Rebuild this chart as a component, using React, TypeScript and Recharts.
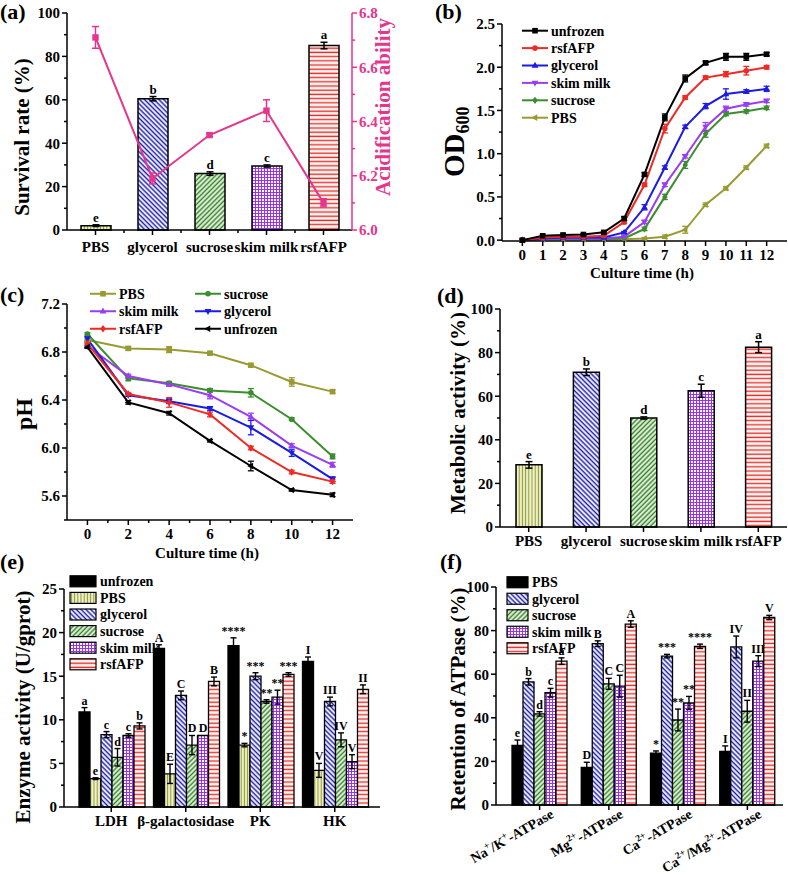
import React from "react";
import {
  Bar,
  BarChart,
  Cell,
  ComposedChart,
  ErrorBar,
  LabelList,
  Legend,
  Line,
  LineChart,
  XAxis,
  YAxis,
} from "recharts";

const FONT = "'Liberation Serif', 'Times New Roman', serif";
const PINK = "#e5358c";

// (a) survival rate + acidification ability
const treatments = ["PBS", "glycerol", "sucrose", "skim milk", "rsfAFP"];
const survival = [2, 60.5, 26, 29.5, 85];
const survivalErr = [0.4, 1.0, 0.8, 0.5, 1.5];
const survivalSig = ["e", "b", "d", "c", "a"];
const acidification = [6.71, 6.19, 6.35, 6.44, 6.1];
const acidificationErr = [0.04, 0.02, 0.006, 0.04, 0.015];

// (b) growth curves
const odHours = [0, 1, 2, 3, 4, 5, 6, 7, 8, 9, 10, 11, 12];
const odUnfrozen = [0, 0.05, 0.06, 0.065, 0.09, 0.25, 0.76, 1.42, 1.87, 2.05, 2.12, 2.12, 2.15];
const odUnfrozenErr = [0.01, 0.01, 0.01, 0.01, 0.01, 0.02, 0.02, 0.04, 0.04, 0.02, 0.04, 0.04, 0.02];
const odRsf = [0, 0.03, 0.04, 0.04, 0.05, 0.21, 0.64, 1.29, 1.65, 1.88, 1.92, 1.96, 2.0];
const odRsfErr = [0.01, 0.01, 0.01, 0.01, 0.01, 0.02, 0.02, 0.05, 0.02, 0.02, 0.03, 0.05, 0.02];
const odGly = [0, 0.02, 0.03, 0.03, 0.03, 0.09, 0.38, 0.84, 1.31, 1.55, 1.69, 1.72, 1.75];
const odGlyErr = [0.01, 0.01, 0.01, 0.01, 0.01, 0.01, 0.03, 0.02, 0.02, 0.03, 0.06, 0.02, 0.03];
const odSkim = [0, 0.02, 0.02, 0.02, 0.02, 0.04, 0.21, 0.64, 0.97, 1.31, 1.52, 1.57, 1.61];
const odSkimErr = [0.01, 0.01, 0.01, 0.01, 0.01, 0.01, 0.02, 0.02, 0.02, 0.05, 0.03, 0.02, 0.02];
const odSuc = [0, 0.01, 0.01, 0.01, 0.01, 0.02, 0.13, 0.5, 0.87, 1.23, 1.46, 1.49, 1.53];
const odSucErr = [0.01, 0.01, 0.01, 0.01, 0.01, 0.01, 0.02, 0.03, 0.04, 0.04, 0.02, 0.02, 0.02];
const odPbs = [0, 0.01, 0.01, 0.01, 0.01, 0.01, 0.02, 0.04, 0.12, 0.41, 0.6, 0.84, 1.09];
const odPbsErr = [0.01, 0.01, 0.01, 0.01, 0.01, 0.01, 0.01, 0.02, 0.04, 0.02, 0.02, 0.02, 0.02];

// (c) pH during culture
const phHours = [0, 2, 4, 6, 8, 10, 12];
const phPbs = [6.9, 6.83, 6.82, 6.79, 6.69, 6.55, 6.47];
const phPbsErr = [0.01, 0.015, 0.025, 0.01, 0.01, 0.035, 0.015];
const phSuc = [6.95, 6.58, 6.54, 6.48, 6.46, 6.24, 5.93];
const phSucErr = [0.01, 0.02, 0.015, 0.015, 0.035, 0.01, 0.02];
const phSkim = [6.85, 6.6, 6.53, 6.44, 6.26, 6.02, 5.86];
const phSkimErr = [0.02, 0.015, 0.015, 0.03, 0.03, 0.015, 0.02];
const phGly = [6.91, 6.44, 6.39, 6.33, 6.17, 5.96, 5.74];
const phGlyErr = [0.02, 0.01, 0.02, 0.015, 0.06, 0.03, 0.02];
const phRsf = [6.87, 6.45, 6.38, 6.28, 6.0, 5.8, 5.72];
const phRsfErr = [0.01, 0.01, 0.04, 0.02, 0.015, 0.015, 0.015];
const phUnf = [6.84, 6.38, 6.29, 6.06, 5.85, 5.65, 5.61];
const phUnfErr = [0.01, 0.015, 0.015, 0.01, 0.04, 0.01, 0.015];

// (d) metabolic activity
const metabolic = [28.5, 71, 50, 62.5, 82.5];
const metabolicErr = [1.5, 1.5, 0.5, 3, 2.5];
const metabolicSig = ["e", "b", "d", "c", "a"];

// (e) enzyme activity
const enzymes = ["LDH", "β-galactosidase", "PK", "HK"];
const eUnfrozen = [10.9, 18.2, 18.5, 16.7];
const eUnfrozenErr = [0.5, 0.4, 0.9, 0.5];
const eUnfrozenSig = ["a", "A", "****", "I"];
const ePbs = [3.25, 3.8, 7.1, 4.2];
const ePbsErr = [0.1, 1.1, 0.2, 0.8];
const ePbsSig = ["e", "E", "*", "V"];
const eGly = [8.3, 12.8, 15.0, 12.1];
const eGlyErr = [0.35, 0.5, 0.4, 0.5];
const eGlySig = ["c", "C", "***", "III"];
const eSuc = [5.7, 7.1, 12.1, 7.7];
const eSucErr = [1.0, 1.1, 0.2, 0.8];
const eSucSig = ["d", "D", "**", "IV"];
const eSkim = [8.2, 8.2, 12.6, 5.2];
const eSkimErr = [0.2, 0, 0.8, 0.8];
const eSkimSig = ["c", "D", "**", "V"];
const eRsf = [9.3, 14.4, 15.2, 13.5];
const eRsfErr = [0.35, 0.5, 0.2, 0.5];
const eRsfSig = ["b", "B", "***", "II"];

// (f) ATPase retention
const atpases = ["Na⁺/K⁺-ATPase", "Mg²⁺-ATPase", "Ca²⁺-ATPase", "Ca²⁺/Mg²⁺-ATPase"];
const fPbs = [27.3, 17.3, 23.8, 24.6];
const fPbsErr = [2.5, 2.3, 1.0, 2.5];
const fPbsSig = ["e", "D", "*", "I"];
const fGly = [56.5, 74, 68.3, 72.5];
const fGlyErr = [1.5, 1.3, 0.8, 5];
const fGlySig = ["b", "B", "***", "IV"];
const fSuc = [41.8, 55.6, 39, 43];
const fSucErr = [1, 2.5, 5, 5];
const fSucSig = ["d", "C", "**", "II"];
const fSkim = [51.5, 54.5, 46.8, 66];
const fSkimErr = [2, 5, 3, 2.5];
const fSkimSig = ["c", "C", "**", "III"];
const fRsf = [66, 83, 72.8, 86];
const fRsfErr = [1.5, 1.5, 1, 1];
const fRsfSig = ["a", "A", "****", "V"];

// styles
const COLOR: Record<string, string> = {
  unfrozen: "#000000",
  rsf: "#ee2a24",
  gly: "#1b1be3",
  skim: "#9c3cf2",
  suc: "#3b8d2f",
  pbs: "#9a9a33",
};
const FILL: Record<string, string> = {
  unfrozen: "#000000",
  pbs: "url(#pat-pbs)",
  gly: "url(#pat-gly)",
  suc: "url(#pat-suc)",
  skim: "url(#pat-skim)",
  rsf: "url(#pat-rsf)",
};
const NAME: Record<string, string> = {
  unfrozen: "unfrozen",
  pbs: "PBS",
  gly: "glycerol",
  suc: "sucrose",
  skim: "skim milk",
  rsf: "rsfAFP",
};
const TREAT_IDS = ["pbs", "gly", "suc", "skim", "rsf"];

const TICK_FONT = { fontFamily: FONT, fontWeight: 700, fontSize: 15 };
const KEY_FONT = { fontFamily: FONT, fontWeight: 700, fontSize: 14 };
const AXIS = { stroke: "#000", strokeWidth: 1.5 };

const steps = (a: number, b: number, s: number) =>
  Array.from({ length: Math.round((b - a) / s) + 1 }, (_, i) => +(a + i * s).toFixed(4));
const isMult = (v: number, s: number) => Math.abs(v / s - Math.round(v / s)) < 1e-6;

// tick renderers (tickSize/tickMargin 0, so x,y sit on the axis line)
const yTick = (major: number, digits: number, side: "left" | "right" = "left", color = "#000") =>
  (p: any) => {
    const v = Number(p.payload.value);
    const isMajor = isMult(v, major);
    const s = side === "left" ? -1 : 1;
    return (
      <g>
        <line x1={p.x} x2={p.x + s * (isMajor ? 5 : 3)} y1={p.y} y2={p.y} stroke={color} strokeWidth={1.5} />
        {isMajor && (
          <text x={p.x + s * 7} y={p.y} dy="0.36em" textAnchor={side === "left" ? "end" : "start"} fill={color} style={TICK_FONT}>
            {v.toFixed(digits)}
          </text>
        )}
      </g>
    );
  };

const xNumTick = (major: number) => (p: any) => {
  const v = Number(p.payload.value);
  const isMajor = isMult(v, major);
  return (
    <g>
      <line x1={p.x} x2={p.x} y1={p.y} y2={p.y + (isMajor ? 5 : 3)} stroke="#000" strokeWidth={1.5} />
      {isMajor && (
        <text x={p.x} y={p.y + 19} textAnchor="middle" fill="#000" style={TICK_FONT}>
          {v}
        </text>
      )}
    </g>
  );
};

const xCatTick = (dy: number, minorHalf = 0, count = 0) => (p: any) => (
  <g>
    <line x1={p.x} x2={p.x} y1={p.y} y2={p.y + 5} stroke="#000" strokeWidth={1.5} />
    {minorHalf > 0 && p.index < count - 1 && (
      <line x1={p.x + minorHalf} x2={p.x + minorHalf} y1={p.y} y2={p.y + 3} stroke="#000" strokeWidth={1.5} />
    )}
    <text x={p.x} y={p.y + dy} textAnchor="middle" fill="#000" style={TICK_FONT}>
      {p.payload.value}
    </text>
  </g>
);

const SUP: Record<string, string> = { "⁺": "+", "²": "2" };
const atpTick = (p: any) => {
  const label = String(p.payload.value);
  const segs: { t: string; sup: boolean }[] = [];
  for (const ch of label) {
    const sup = ch in SUP;
    const t = sup ? SUP[ch] : ch;
    const last = segs[segs.length - 1];
    if (last && last.sup === sup) last.t += t;
    else segs.push({ t, sup });
  }
  let raised = false;
  return (
    <g>
      <line x1={p.x} x2={p.x} y1={p.y} y2={p.y + 5} stroke="#000" strokeWidth={1.5} />
      <text transform={`translate(${p.x + 15},${p.y + 12}) rotate(-30)`} textAnchor="end" fill="#000" style={{ ...TICK_FONT, fontSize: 14 }}>
        {segs.map((s, i) => {
          const dy = s.sup ? (raised ? 0 : -6) : raised ? 6 : 0;
          raised = s.sup;
          return (
            <tspan key={i} dy={dy} fontSize={s.sup ? 9.5 : 14}>
              {s.t}
            </tspan>
          );
        })}
      </text>
    </g>
  );
};

// significance letters above the error bar
const sigLabel = (vals: number[], errs: number[], sigs: string[], size: number) => (p: any) => {
  const vb = p.viewBox || p;
  const x = vb.x ?? p.x;
  const y = vb.y ?? p.y;
  const w = vb.width ?? p.width;
  const h = vb.height ?? p.height;
  const i = p.index;
  if (i == null || x == null) return null;
  const perUnit = vals[i] ? h / vals[i] : 0;
  const top = y - errs[i] * perUnit;
  return (
    <text x={x + w / 2} y={top - 3} textAnchor="middle" fill="#000" stroke="none" style={{ fontFamily: FONT, fontWeight: 700, fontSize: size }}>
      {sigs[i]}
    </text>
  );
};

function Marker({ cx, cy, shape, color, r }: { cx: number; cy: number; shape: string; color: string; r: number }) {
  if (cx == null || cy == null) return null;
  switch (shape) {
    case "square":
      return <rect x={cx - r} y={cy - r} width={2 * r} height={2 * r} fill={color} />;
    case "circle":
      return <circle cx={cx} cy={cy} r={r} fill={color} />;
    case "up":
      return <polygon points={`${cx},${cy - r * 1.3} ${cx + r * 1.2},${cy + r * 0.8} ${cx - r * 1.2},${cy + r * 0.8}`} fill={color} />;
    case "down":
      return <polygon points={`${cx},${cy + r * 1.3} ${cx + r * 1.2},${cy - r * 0.8} ${cx - r * 1.2},${cy - r * 0.8}`} fill={color} />;
    case "diamond":
      return <polygon points={`${cx},${cy - r * 1.3} ${cx + r},${cy} ${cx},${cy + r * 1.3} ${cx - r},${cy}`} fill={color} />;
    default:
      return <polygon points={`${cx - r * 1.3},${cy} ${cx + r * 0.8},${cy - r * 1.2} ${cx + r * 0.8},${cy + r * 1.2}`} fill={color} />;
  }
}

const dotOf = (shape: string, color: string, r = 2.8) => (p: any) => (
  <Marker key={`m${p.index}`} cx={p.cx} cy={p.cy} shape={shape} color={color} r={r} />
);

function LineKey({ items, cols = 1, colW = 0, rowH }: { items: { id: string; shape: string }[]; cols?: number; colW?: number; rowH: number }) {
  const rows = Math.ceil(items.length / cols);
  return (
    <svg width={cols * 110 + 30} height={rows * rowH + 4} style={{ overflow: "visible" }}>
      {items.map((it, i) => {
        const x = (i % cols) * colW + 4;
        const y = Math.floor(i / cols) * rowH + rowH / 2 + 1;
        return (
          <g key={it.id}>
            <line x1={x} x2={x + 26} y1={y} y2={y} stroke={COLOR[it.id]} strokeWidth={2} />
            <Marker cx={x + 13} cy={y} shape={it.shape} color={COLOR[it.id]} r={2.8} />
            <text x={x + 29} y={y} dy="0.35em" fill="#000" style={KEY_FONT}>
              {NAME[it.id]}
            </text>
          </g>
        );
      })}
    </svg>
  );
}

function BoxKey({ ids, fills, boxW, boxH, rowH }: { ids: string[]; fills: Record<string, string>; boxW: number; boxH: number; rowH: number }) {
  return (
    <svg width={140} height={ids.length * rowH + 4} style={{ overflow: "visible" }}>
      {ids.map((id, i) => {
        const cy = i * rowH + rowH / 2;
        return (
          <g key={id}>
            <rect x={3} y={cy - boxH / 2} width={boxW} height={boxH} fill={fills[id]} stroke="#000" strokeWidth={1.2} />
            <text x={boxW + 7} y={cy} dy="0.35em" fill="#000" style={KEY_FONT}>
              {NAME[id]}
            </text>
          </g>
        );
      })}
    </svg>
  );
}

function Patterns() {
  return (
    <svg width={0} height={0} style={{ position: "absolute" }}>
      <defs>
        <pattern id="pat-pbs" width={3.2} height={4} patternUnits="userSpaceOnUse">
          <rect width={3.2} height={4} fill="#f3f3d0" />
          <line x1={1.2} y1={0} x2={1.2} y2={4} stroke="#8d9a2c" strokeWidth={1.1} />
        </pattern>
        <pattern id="pat-gly" width={3.4} height={4} patternUnits="userSpaceOnUse" patternTransform="rotate(-45)">
          <rect width={3.4} height={4} fill="#ffffff" />
          <line x1={1.2} y1={0} x2={1.2} y2={4} stroke="#1c1cae" strokeWidth={1.5} />
        </pattern>
        <pattern id="pat-suc" width={3.4} height={4} patternUnits="userSpaceOnUse" patternTransform="rotate(45)">
          <rect width={3.4} height={4} fill="#eef7e6" />
          <line x1={1.2} y1={0} x2={1.2} y2={4} stroke="#33822a" strokeWidth={1.5} />
        </pattern>
        <pattern id="pat-skim" width={3} height={3} patternUnits="userSpaceOnUse">
          <rect width={3} height={3} fill="#9b30f0" />
          <rect x={1} y={1} width={2} height={2} fill="#ffffff" />
        </pattern>
        <pattern id="pat-rsf" width={4} height={4.2} patternUnits="userSpaceOnUse">
          <rect width={4} height={4.2} fill="#fff6f4" />
          <line x1={0} y1={2} x2={4} y2={2} stroke="#e8332e" strokeWidth={1.4} />
        </pattern>
      </defs>
    </svg>
  );
}

// ---------- panels ----------
const aData = treatments.map((cat, i) => ({
  cat,
  survival: survival[i],
  survivalErr: survivalErr[i],
  acid: acidification[i],
  acidErr: acidificationErr[i],
}));

function PanelA() {
  return (
    <ComposedChart width={400} height={262} data={aData} margin={{ top: 13, right: 8, bottom: 5, left: 27 }}>
      <XAxis dataKey="cat" height={27} interval={0} tickSize={0} tickMargin={0} tickLine={false} axisLine={AXIS} tick={xCatTick(22, 28.5, treatments.length)} />
      <YAxis yAxisId="l" width={40} domain={[0, 100]} ticks={steps(0, 100, 10)} interval={0} tickSize={0} tickMargin={0} tickLine={false} axisLine={AXIS} tick={yTick(20, 0)} />
      <YAxis yAxisId="r" orientation="right" width={40} domain={[6, 6.8]} ticks={steps(6, 6.8, 0.1)} interval={0} tickSize={0} tickMargin={0} tickLine={false} axisLine={{ stroke: PINK, strokeWidth: 1.5 }} tick={yTick(0.2, 1, "right", PINK)} />
      <Bar yAxisId="l" dataKey="survival" barSize={30} stroke="#000" strokeWidth={1.5} isAnimationActive={false}>
        {aData.map((_, i) => (
          <Cell key={i} fill={FILL[TREAT_IDS[i]]} />
        ))}
        <ErrorBar dataKey="survivalErr" width={3.5} stroke="#000" strokeWidth={1.5} direction="y" />
        <LabelList dataKey="cat" content={sigLabel(survival, survivalErr, survivalSig, 13)} />
      </Bar>
      <Line yAxisId="r" dataKey="acid" stroke={PINK} strokeWidth={2} dot={dotOf("square", PINK, 3.2)} isAnimationActive={false}>
        <ErrorBar dataKey="acidErr" width={3.5} stroke={PINK} strokeWidth={1.5} direction="y" />
      </Line>
    </ComposedChart>
  );
}

const odSeries = [
  { id: "unfrozen", vals: odUnfrozen, errs: odUnfrozenErr, shape: "square" },
  { id: "rsf", vals: odRsf, errs: odRsfErr, shape: "circle" },
  { id: "gly", vals: odGly, errs: odGlyErr, shape: "up" },
  { id: "skim", vals: odSkim, errs: odSkimErr, shape: "down" },
  { id: "suc", vals: odSuc, errs: odSucErr, shape: "diamond" },
  { id: "pbs", vals: odPbs, errs: odPbsErr, shape: "left" },
];
const bData = odHours.map((t, i) => {
  const row: Record<string, number> = { t };
  odSeries.forEach((s) => {
    row[s.id] = s.vals[i];
    row[s.id + "Err"] = s.errs[i];
  });
  return row;
});

function PanelB() {
  return (
    <LineChart width={398} height={290} data={bData} margin={{ top: 24, right: 1, bottom: 19, left: 72 }}>
      <XAxis type="number" dataKey="t" domain={[-1, 13]} ticks={odHours} height={30} interval={0} tickSize={0} tickMargin={0} tickLine={false} axisLine={AXIS} tick={xNumTick(1)} />
      <YAxis width={40} domain={[0, 2.5]} ticks={steps(0, 2.5, 0.25)} interval={0} tickSize={0} tickMargin={0} tickLine={false} axisLine={AXIS} tick={yTick(0.5, 1)} />
      {[...odSeries].reverse().map((s) => (
        <Line key={s.id} dataKey={s.id} stroke={COLOR[s.id]} strokeWidth={2} dot={dotOf(s.shape, COLOR[s.id])} isAnimationActive={false}>
          <ErrorBar dataKey={s.id + "Err"} direction="y" width={3} stroke={COLOR[s.id]} strokeWidth={1.3} />
        </Line>
      ))}
      <Legend layout="vertical" align="center" verticalAlign="middle" wrapperStyle={{ left: 128, top: 21 }} content={() => <LineKey items={odSeries} rowH={17.4} />} />
    </LineChart>
  );
}

const phSeries = [
  { id: "pbs", vals: phPbs, errs: phPbsErr, shape: "square" },
  { id: "suc", vals: phSuc, errs: phSucErr, shape: "circle" },
  { id: "skim", vals: phSkim, errs: phSkimErr, shape: "up" },
  { id: "gly", vals: phGly, errs: phGlyErr, shape: "down" },
  { id: "rsf", vals: phRsf, errs: phRsfErr, shape: "diamond" },
  { id: "unfrozen", vals: phUnf, errs: phUnfErr, shape: "left" },
];
const cData = phHours.map((t, i) => {
  const row: Record<string, number> = { t };
  phSeries.forEach((s) => {
    row[s.id] = s.vals[i];
    row[s.id + "Err"] = s.errs[i];
  });
  return row;
});

function PanelC() {
  return (
    <LineChart width={400} height={290} data={cData} margin={{ top: 24, right: 47, bottom: 20, left: 27 }}>
      <XAxis type="number" dataKey="t" domain={[-1, 13]} ticks={steps(0, 12, 1)} height={30} interval={0} tickSize={0} tickMargin={0} tickLine={false} axisLine={AXIS} tick={xNumTick(2)} />
      <YAxis width={40} domain={[5.4, 7.2]} ticks={steps(5.4, 7.2, 0.2)} interval={0} tickSize={0} tickMargin={0} tickLine={false} axisLine={AXIS} tick={yTick(0.4, 1)} />
      {phSeries.map((s) => (
        <Line key={s.id} dataKey={s.id} stroke={COLOR[s.id]} strokeWidth={2} dot={dotOf(s.shape, COLOR[s.id])} isAnimationActive={false}>
          <ErrorBar dataKey={s.id + "Err"} direction="y" width={3} stroke={COLOR[s.id]} strokeWidth={1.3} />
        </Line>
      ))}
      <Legend layout="vertical" align="center" verticalAlign="middle" wrapperStyle={{ left: 86, top: 4 }} content={() => <LineKey items={phSeries} cols={2} colW={105} rowH={17.5} />} />
    </LineChart>
  );
}

const dData = treatments.map((cat, i) => ({ cat, metabolic: metabolic[i], metabolicErr: metabolicErr[i] }));

function PanelD() {
  return (
    <BarChart width={398} height={290} data={dData} margin={{ top: 29, right: 1, bottom: 13, left: 70 }}>
      <XAxis dataKey="cat" height={30} interval={0} tickSize={0} tickMargin={0} tickLine={false} axisLine={AXIS} tick={xCatTick(19)} />
      <YAxis width={40} domain={[0, 100]} ticks={steps(0, 100, 10)} interval={0} tickSize={0} tickMargin={0} tickLine={false} axisLine={AXIS} tick={yTick(20, 0)} />
      <Bar dataKey="metabolic" barSize={26} stroke="#000" strokeWidth={1.5} isAnimationActive={false}>
        {dData.map((_, i) => (
          <Cell key={i} fill={FILL[TREAT_IDS[i]]} />
        ))}
        <ErrorBar dataKey="metabolicErr" width={3.5} stroke="#000" strokeWidth={1.5} direction="y" />
        <LabelList dataKey="cat" content={sigLabel(metabolic, metabolicErr, metabolicSig, 13)} />
      </Bar>
    </BarChart>
  );
}

const eSeries = [
  { id: "unfrozen", vals: eUnfrozen, errs: eUnfrozenErr, sig: eUnfrozenSig },
  { id: "pbs", vals: ePbs, errs: ePbsErr, sig: ePbsSig },
  { id: "gly", vals: eGly, errs: eGlyErr, sig: eGlySig },
  { id: "suc", vals: eSuc, errs: eSucErr, sig: eSucSig },
  { id: "skim", vals: eSkim, errs: eSkimErr, sig: eSkimSig },
  { id: "rsf", vals: eRsf, errs: eRsfErr, sig: eRsfSig },
];
const eData = enzymes.map((grp, i) => {
  const row: Record<string, any> = { grp };
  eSeries.forEach((s) => {
    row[s.id] = s.vals[i];
    row[s.id + "Err"] = s.errs[i];
  });
  return row;
});

function PanelE() {
  return (
    <BarChart width={400} height={290} data={eData} margin={{ top: 19, right: 20, bottom: 23, left: 24 }} barCategoryGap={5} barGap={0}>
      <XAxis dataKey="grp" height={30} padding={{ left: 10, right: 8 }} interval={0} tickSize={0} tickMargin={0} tickLine={false} axisLine={AXIS} tick={xCatTick(19)} />
      <YAxis width={40} domain={[0, 25]} ticks={steps(0, 25, 2.5)} interval={0} tickSize={0} tickMargin={0} tickLine={false} axisLine={AXIS} tick={yTick(5, 0)} />
      {eSeries.map((s) => (
        <Bar key={s.id} dataKey={s.id} fill={FILL[s.id]} stroke="#000" strokeWidth={1.3} isAnimationActive={false}>
          <ErrorBar dataKey={s.id + "Err"} width={3} stroke="#000" strokeWidth={1.4} direction="y" />
          <LabelList dataKey={s.id} content={sigLabel(s.vals, s.errs, s.sig, 12)} />
        </Bar>
      ))}
      <Legend layout="vertical" align="center" verticalAlign="middle" wrapperStyle={{ left: 67, top: 3 }} content={() => <BoxKey ids={eSeries.map((s) => s.id)} fills={FILL} boxW={26} boxH={11} rowH={16.6} />} />
    </BarChart>
  );
}

const fSeries = [
  { id: "pbs", vals: fPbs, errs: fPbsErr, sig: fPbsSig },
  { id: "gly", vals: fGly, errs: fGlyErr, sig: fGlySig },
  { id: "suc", vals: fSuc, errs: fSucErr, sig: fSucSig },
  { id: "skim", vals: fSkim, errs: fSkimErr, sig: fSkimSig },
  { id: "rsf", vals: fRsf, errs: fRsfErr, sig: fRsfSig },
];
const F_FILL: Record<string, string> = { ...FILL, pbs: "#000000" };
const fData = atpases.map((grp, i) => {
  const row: Record<string, any> = { grp };
  fSeries.forEach((s) => {
    row[s.id] = s.vals[i];
    row[s.id + "Err"] = s.errs[i];
  });
  return row;
});

function PanelF() {
  return (
    <BarChart width={398} height={305} data={fData} margin={{ top: 17, right: 5, bottom: 10, left: 66 }} barCategoryGap={7} barGap={0}>
      <XAxis dataKey="grp" height={60} padding={{ left: 9, right: 1 }} interval={0} tickSize={0} tickMargin={0} tickLine={false} axisLine={AXIS} tick={atpTick} />
      <YAxis width={40} domain={[0, 100]} ticks={steps(0, 100, 10)} interval={0} tickSize={0} tickMargin={0} tickLine={false} axisLine={AXIS} tick={yTick(20, 0)} />
      {fSeries.map((s) => (
        <Bar key={s.id} dataKey={s.id} fill={F_FILL[s.id]} stroke="#000" strokeWidth={1.3} isAnimationActive={false}>
          <ErrorBar dataKey={s.id + "Err"} width={3} stroke="#000" strokeWidth={1.4} direction="y" />
          <LabelList dataKey={s.id} content={sigLabel(s.vals, s.errs, s.sig, 12)} />
        </Bar>
      ))}
      <Legend layout="vertical" align="center" verticalAlign="middle" wrapperStyle={{ left: 114, top: 4 }} content={() => <BoxKey ids={fSeries.map((s) => s.id)} fills={F_FILL} boxW={21} boxH={11} rowH={16.5} />} />
    </BarChart>
  );
}

function Titles() {
  const big = { fontFamily: FONT, fontWeight: 700, fontSize: 21 };
  const letter = { fontFamily: FONT, fontWeight: 700, fontSize: 22 };
  return (
    <svg width={788} height={875} style={{ position: "absolute", left: 0, top: 0, pointerEvents: "none" }}>
      <text x={0} y={19} style={letter}>(a)</text>
      <text transform="translate(29,137) rotate(-90)" textAnchor="middle" style={big}>Survival rate (%)</text>
      <text transform="translate(390,107) rotate(-90)" textAnchor="middle" style={big} fill={PINK}>Acidification ability</text>

      <text x={435} y={19} style={letter}>(b)</text>
      <text transform="translate(464,177) rotate(-90)" style={{ ...big, fontSize: 29 }}>
        OD<tspan fontSize={18} dy={5}>600</tspan>
      </text>
      <text x={642} y={278} textAnchor="middle" style={TICK_FONT}>Culture time (h)</text>

      <text x={0} y={302} style={letter}>(c)</text>
      <text transform="translate(32,414) rotate(-90)" textAnchor="middle" style={{ ...big, fontSize: 24 }}>pH</text>
      <text x={207} y={558} textAnchor="middle" style={TICK_FONT}>Culture time (h)</text>

      <text x={437} y={303} style={letter}>(d)</text>
      <text transform="translate(465,413) rotate(-90)" textAnchor="middle" style={big}>Metabolic activity (%)</text>

      <text x={0} y={569} style={letter}>(e)</text>
      <text transform="translate(30,707) rotate(-90)" textAnchor="middle" style={big}>Enzyme activity (U/gprot)</text>

      <text x={440} y={569} style={letter}>(f)</text>
      <text transform="translate(465,699) rotate(-90)" textAnchor="middle" style={big}>Retention of ATPase (%)</text>
    </svg>
  );
}

const place = (left: number, top: number): React.CSSProperties => ({ position: "absolute", left, top });

export default function App() {
  return (
    <div style={{ position: "absolute", left: 0, top: 0, width: 788, height: 875, background: "#fff", fontFamily: FONT, overflow: "hidden" }}>
      <Patterns />
      <div style={place(0, 0)}><PanelA /></div>
      <div style={place(390, 0)}><PanelB /></div>
      <div style={place(0, 280)}><PanelC /></div>
      <div style={place(390, 280)}><PanelD /></div>
      <div style={place(0, 570)}><PanelE /></div>
      <div style={place(390, 570)}><PanelF /></div>
      <Titles />
    </div>
  );
}
